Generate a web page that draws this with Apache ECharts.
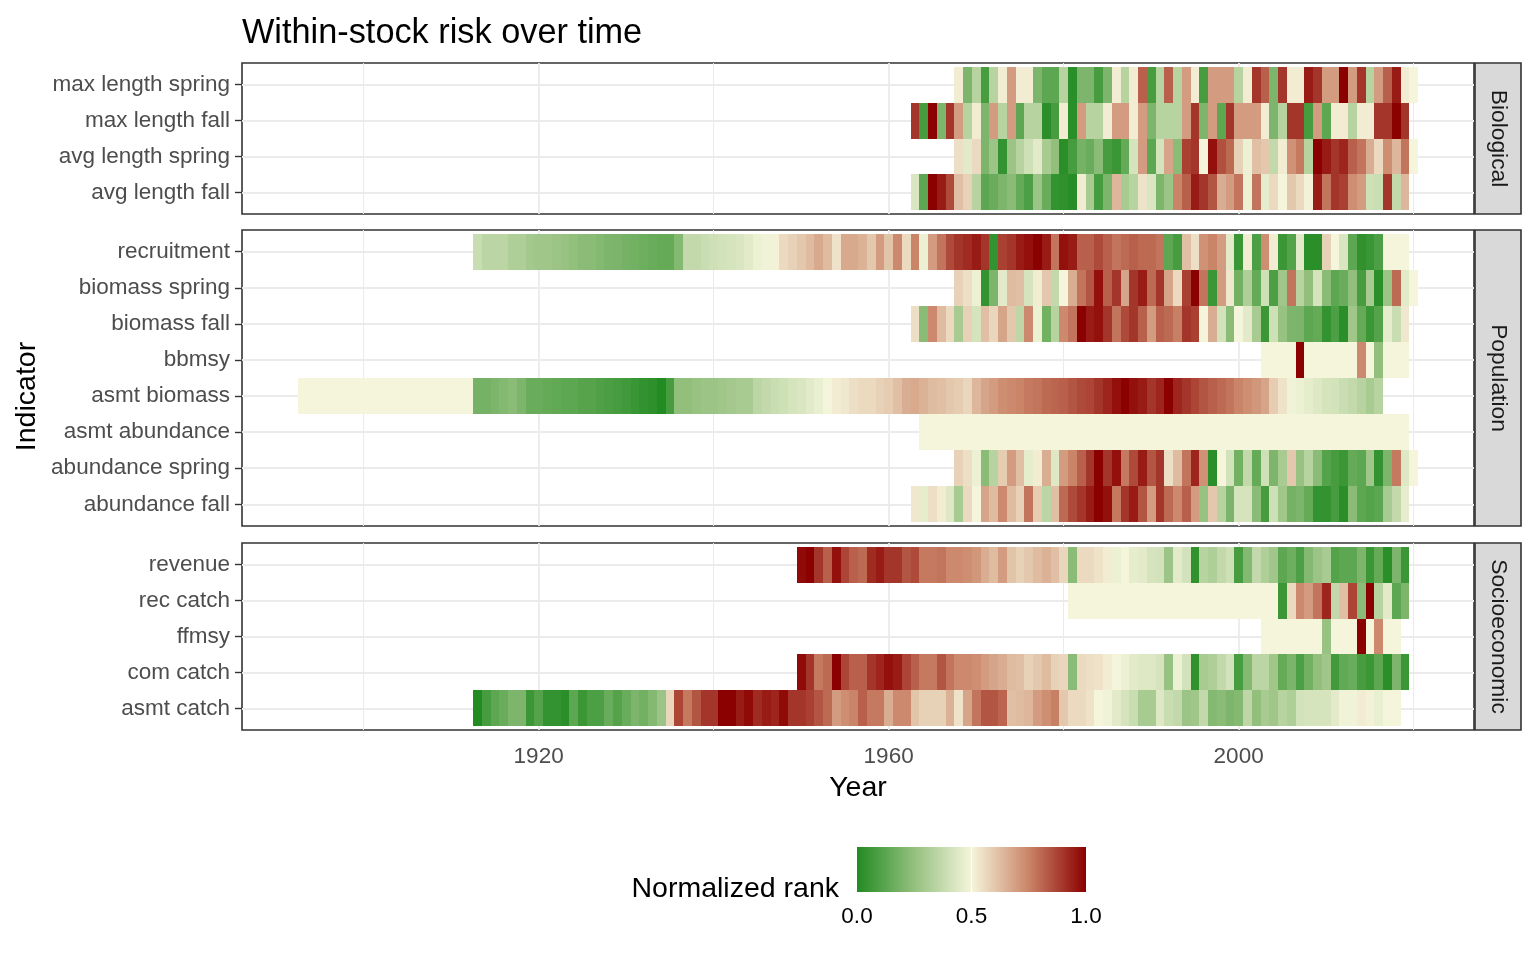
<!DOCTYPE html>
<html>
<head>
<meta charset="utf-8">
<title>Within-stock risk over time</title>
<script src="https://cdn.jsdelivr.net/npm/echarts@6/dist/echarts.min.js"></script>
<style>
    html, body { margin: 0; padding: 0; background: #fff; }
    #chart { width: 1536px; height: 960px; }
</style>
</head>
<body>
<div id="chart"></div>
<script>
// year axis
const yearMin = 1886.1;
const yearMax = 2026.9;
const majorYears = [1920, 1960, 2000];
const minorYears = [1900, 1940, 1980, 2020];
const legendTicks = [0, 0.5, 1];

// ---- Biological ----
// 1968-2020
const maxLengthSpring = [
    0.52, 0.2, 0.34, 0.08, 0.34, 0.52, 0.7, 0.52, 0.52, 0.2,
    0.13, 0.13, 0.34, 0.02, 0.2, 0.2, 0.08, 0.2, 0.52, 0.34,
    0.52, 0.82, 0.08, 0.34, 0.82, 0.34, 0.7, 0.52, 0.08, 0.7,
    0.7, 0.7, 0.34, 0.52, 0.9, 0.82, 0.2, 0.9, 0.52, 0.52,
    0.95, 0.9, 0.7, 0.7, 1.0, 0.7, 0.9, 0.34, 0.7, 0.82,
    0.95, 0.52, 0.5
];
// 1963-2019
const maxLengthFall = [
    0.9, 0.08, 1.0, 0.2, 0.9, 0.7, 0.34, 0.52, 0.2, 0.7,
    0.34, 0.7, 0.13, 0.34, 0.34, 0.02, 0.08, 0.52, 0.02, 0.7,
    0.34, 0.34, 0.52, 0.7, 0.7, 0.52, 0.7, 0.2, 0.34, 0.34,
    0.34, 0.7, 0.9, 0.2, 0.7, 0.13, 0.9, 0.7, 0.7, 0.7,
    0.52, 0.2, 0.34, 0.9, 0.9, 0.08, 0.7, 0.13, 0.52, 0.52,
    0.34, 0.52, 0.52, 0.9, 0.9, 1.0, 0.9
];
// 1968-2020
const avgLengthSpring = [
    0.55, 0.45, 0.56, 0.2, 0.27, 0.04, 0.27, 0.34, 0.4, 0.45,
    0.3, 0.245, 0.02, 0.08, 0.185, 0.155, 0.23, 0.08, 0.055, 0.145,
    0.42, 0.7, 0.13, 0.42, 0.68, 0.23, 0.88, 0.9, 0.5, 0.97,
    0.85, 0.8, 0.58, 0.48, 0.62, 0.6, 0.37, 0.52, 0.72, 0.77,
    0.34, 1.0, 0.95, 0.9, 0.93, 0.82, 0.78, 0.66, 0.56, 0.73,
    0.64, 0.78, 0.5
];
// 1963-2019
const avgLengthFall = [
    0.43, 0.13, 1.0, 0.95, 0.86, 0.62, 0.58, 0.34, 0.13, 0.155,
    0.2, 0.23, 0.145, 0.095, 0.27, 0.155, 0.04, 0.03, 0.01, 0.52,
    0.3, 0.08, 0.2, 0.64, 0.3, 0.34, 0.54, 0.43, 0.2, 0.27,
    0.75, 0.82, 0.95, 0.9, 0.84, 0.66, 0.7, 0.78, 0.48, 0.78,
    0.46, 0.56, 0.5, 0.6, 0.56, 0.51, 0.95, 0.78, 0.9, 0.88,
    0.73, 0.7, 0.4, 0.39, 0.9, 0.37, 0.64
];

// ---- Population ----
// 1913-2019
const recruitment = [
    0.385, 0.35, 0.35, 0.35, 0.32, 0.32, 0.29, 0.28, 0.28, 0.27,
    0.26, 0.245, 0.23, 0.23, 0.215, 0.2, 0.195, 0.185, 0.175, 0.165,
    0.155, 0.145, 0.145, 0.215, 0.37, 0.37, 0.385, 0.4, 0.41, 0.42,
    0.43, 0.45, 0.48, 0.49, 0.51, 0.56, 0.58, 0.6, 0.63, 0.67,
    0.63, 0.54, 0.67, 0.67, 0.65, 0.6, 0.7, 0.61, 0.74, 0.56,
    0.75, 0.48, 0.7, 0.78, 0.86, 0.9, 0.92, 0.95, 0.9, 0.04,
    0.88, 0.9, 0.95, 0.97, 1.0, 0.95, 0.78, 0.97, 0.95, 0.82,
    0.82, 0.86, 0.82, 0.78, 0.8, 0.82, 0.8, 0.8, 0.78, 0.13,
    0.08, 0.62, 0.55, 0.72, 0.75, 0.7, 0.45, 0.055, 0.52, 0.095,
    0.73, 0.52, 0.055, 0.11, 0.45, 0.02, 0.02, 0.58, 0.5, 0.43,
    0.13, 0.03, 0.05, 0.095, 0.5, 0.5, 0.5
];
// 1968-2020
const biomassSpring = [
    0.58, 0.55, 0.48, 0.04, 0.2, 0.45, 0.63, 0.62, 0.42, 0.52,
    0.6, 0.37, 0.5, 0.66, 0.78, 0.84, 0.97, 0.82, 0.9, 0.68,
    0.9, 0.95, 0.8, 0.9, 0.68, 0.56, 0.88, 1.0, 0.78, 0.055,
    0.7, 0.53, 0.175, 0.32, 0.145, 0.4, 0.095, 0.28, 0.78, 0.34,
    0.245, 0.42, 0.23, 0.13, 0.155, 0.245, 0.08, 0.3, 0.02, 0.27,
    0.8, 0.45, 0.5
];
// 1963-2019
const biomassFall = [
    0.55, 0.23, 0.74, 0.63, 0.56, 0.3, 0.58, 0.42, 0.62, 0.57,
    0.68, 0.6, 0.36, 0.74, 0.48, 0.175, 0.34, 0.74, 0.78, 1.0,
    0.95, 0.97, 0.9, 0.78, 0.86, 0.9, 0.82, 0.7, 0.82, 0.8,
    0.76, 0.9, 0.88, 0.5, 0.66, 0.41, 0.23, 0.5, 0.45, 0.3,
    0.055, 0.4, 0.26, 0.2, 0.195, 0.13, 0.145, 0.04, 0.095, 0.02,
    0.28, 0.145, 0.055, 0.11, 0.46, 0.385, 0.53
];
// 2003-2019
const bbmsy = [
    0.5, 0.5, 0.5, 0.5, 1.0, 0.5, 0.5, 0.5, 0.5, 0.5,
    0.5, 0.74, 0.5, 0.245, 0.5, 0.5, 0.5
];
// 1893-2016
const asmtBiomass = [
    0.5, 0.5, 0.5, 0.5, 0.5, 0.5, 0.5, 0.5, 0.5, 0.5,
    0.5, 0.5, 0.5, 0.5, 0.5, 0.5, 0.5, 0.5, 0.5, 0.5,
    0.185, 0.185, 0.2, 0.215, 0.23, 0.2, 0.155, 0.155, 0.145, 0.14,
    0.13, 0.13, 0.115, 0.115, 0.1, 0.09, 0.08, 0.065, 0.05, 0.035,
    0.025, 0.0, 0.08, 0.245, 0.245, 0.26, 0.27, 0.27, 0.28, 0.29,
    0.3, 0.3, 0.35, 0.37, 0.385, 0.4, 0.42, 0.43, 0.45, 0.47,
    0.5, 0.52, 0.53, 0.55, 0.56, 0.56, 0.58, 0.59, 0.62, 0.66,
    0.67, 0.65, 0.63, 0.62, 0.6, 0.59, 0.57, 0.64, 0.68, 0.7,
    0.73, 0.74, 0.75, 0.77, 0.78, 0.8, 0.81, 0.82, 0.84, 0.86,
    0.87, 0.9, 0.93, 0.97, 1.0, 0.97, 0.95, 0.9, 0.93, 1.0,
    0.93, 0.9, 0.87, 0.84, 0.82, 0.8, 0.78, 0.75, 0.73, 0.71,
    0.68, 0.59, 0.54, 0.49, 0.48, 0.46, 0.44, 0.42, 0.41, 0.385,
    0.37, 0.34, 0.3, 0.34
];
// 1964-2019
const asmtAbundance = [
    0.5, 0.5, 0.5, 0.5, 0.5, 0.5, 0.5, 0.5, 0.5, 0.5,
    0.5, 0.5, 0.5, 0.5, 0.5, 0.5, 0.5, 0.5, 0.5, 0.5,
    0.5, 0.5, 0.5, 0.5, 0.5, 0.5, 0.5, 0.5, 0.5, 0.5,
    0.5, 0.5, 0.5, 0.5, 0.5, 0.5, 0.5, 0.5, 0.5, 0.5,
    0.5, 0.5, 0.5, 0.5, 0.5, 0.5, 0.5, 0.5, 0.5, 0.5,
    0.5, 0.5, 0.5, 0.5, 0.5, 0.5
];
// 1968-2020
const abundanceSpring = [
    0.58, 0.55, 0.48, 0.23, 0.34, 0.59, 0.7, 0.62, 0.46, 0.52,
    0.66, 0.44, 0.7, 0.75, 0.82, 0.9, 1.0, 0.9, 0.97, 0.77,
    0.86, 0.95, 0.84, 0.9, 0.55, 0.63, 0.78, 0.93, 0.72, 0.02,
    0.5, 0.41, 0.175, 0.37, 0.145, 0.4, 0.2, 0.3, 0.6, 0.26,
    0.34, 0.23, 0.11, 0.08, 0.055, 0.145, 0.13, 0.28, 0.04, 0.2,
    0.77, 0.44, 0.5
];
// 1963-2019
const abundanceFall = [
    0.53, 0.46, 0.55, 0.52, 0.44, 0.3, 0.56, 0.5, 0.68, 0.63,
    0.74, 0.63, 0.58, 0.78, 0.59, 0.35, 0.62, 0.8, 0.86, 0.9,
    0.95, 1.0, 0.97, 0.77, 0.9, 0.95, 0.84, 0.7, 0.9, 0.8,
    0.74, 0.82, 0.7, 0.26, 0.6, 0.34, 0.195, 0.42, 0.42, 0.23,
    0.08, 0.4, 0.28, 0.185, 0.2, 0.145, 0.04, 0.04, 0.08, 0.02,
    0.23, 0.13, 0.11, 0.125, 0.3, 0.37, 0.46
];

// ---- Socioeconomic ----
// 1950-2019
const revenue = [
    0.98, 1.0, 0.9, 0.82, 0.97, 0.87, 0.82, 0.8, 0.92, 0.95,
    0.9, 0.9, 0.84, 0.86, 0.77, 0.77, 0.78, 0.74, 0.74, 0.73,
    0.71, 0.66, 0.63, 0.7, 0.61, 0.58, 0.6, 0.63, 0.65, 0.62,
    0.57, 0.23, 0.56, 0.56, 0.54, 0.52, 0.48, 0.5, 0.46, 0.45,
    0.42, 0.41, 0.27, 0.45, 0.41, 0.03, 0.34, 0.32, 0.37, 0.4,
    0.08, 0.215, 0.37, 0.32, 0.28, 0.13, 0.165, 0.095, 0.215, 0.27,
    0.3, 0.11, 0.13, 0.13, 0.2, 0.055, 0.145, 0.02, 0.2, 0.055
];
// 1981-2019
const recCatch = [
    0.5, 0.5, 0.5, 0.5, 0.5, 0.5, 0.5, 0.5, 0.5, 0.5,
    0.5, 0.5, 0.5, 0.5, 0.5, 0.5, 0.5, 0.5, 0.5, 0.5,
    0.5, 0.5, 0.5, 0.5,
    0.055, 0.56, 0.74, 0.7, 0.78, 0.93, 0.37, 0.62, 0.87, 0.23,
    1.0, 0.34, 0.45, 0.13, 0.2
];
// 2003-2018
const ffmsy = [
    0.5, 0.5, 0.5, 0.5, 0.5, 0.5, 0.5, 0.26, 0.5, 0.5,
    0.5, 1.0, 0.5, 0.74, 0.5, 0.5
];
// 1950-2019
const comCatch = [
    0.98, 0.9, 0.77, 0.8, 1.0, 0.87, 0.82, 0.82, 0.9, 0.93,
    0.97, 0.95, 0.87, 0.82, 0.77, 0.77, 0.84, 0.78, 0.74, 0.74,
    0.73, 0.7, 0.68, 0.66, 0.63, 0.62, 0.58, 0.6, 0.63, 0.58,
    0.57, 0.23, 0.56, 0.55, 0.54, 0.52, 0.5, 0.48, 0.45, 0.44,
    0.44, 0.42, 0.26, 0.48, 0.41, 0.03, 0.3, 0.32, 0.37, 0.41,
    0.08, 0.215, 0.35, 0.35, 0.28, 0.145, 0.195, 0.095, 0.175, 0.245,
    0.28, 0.07, 0.14, 0.155, 0.08, 0.055, 0.13, 0.02, 0.2, 0.055
];
// 1913-2018
const asmtCatch = [
    0.0, 0.08, 0.13, 0.155, 0.2, 0.2, 0.055, 0.11, 0.04, 0.04,
    0.02, 0.13, 0.055, 0.095, 0.095, 0.155, 0.11, 0.155, 0.2, 0.175,
    0.215, 0.27, 0.57, 0.87, 0.77, 0.84, 0.9, 0.9, 1.0, 1.0,
    0.95, 0.98, 0.92, 0.95, 0.93, 0.98, 0.9, 0.9, 0.88, 0.84,
    0.8, 0.7, 0.73, 0.75, 0.82, 0.77, 0.77, 0.66, 0.74, 0.74,
    0.61, 0.58, 0.58, 0.58, 0.65, 0.54, 0.68, 0.78, 0.84, 0.84,
    0.81, 0.62, 0.63, 0.64, 0.7, 0.73, 0.76, 0.6, 0.56, 0.56,
    0.54, 0.5, 0.49, 0.45, 0.42, 0.385, 0.3, 0.3, 0.44, 0.385,
    0.37, 0.27, 0.28, 0.37, 0.215, 0.23, 0.2, 0.215, 0.36, 0.245,
    0.3, 0.28, 0.34, 0.32, 0.41, 0.42, 0.42, 0.42, 0.45, 0.49,
    0.49, 0.52, 0.51, 0.47, 0.5, 0.5
];

// facets, rows listed top to bottom: [label, first year, values]
const panelNames = ['Biological', 'Population', 'Socioeconomic'];
const panelRows = [
    [
        ['max length spring', 1968, maxLengthSpring],
        ['max length fall', 1963, maxLengthFall],
        ['avg length spring', 1968, avgLengthSpring],
        ['avg length fall', 1963, avgLengthFall]
    ],
    [
        ['recruitment', 1913, recruitment],
        ['biomass spring', 1968, biomassSpring],
        ['biomass fall', 1963, biomassFall],
        ['bbmsy', 2003, bbmsy],
        ['asmt biomass', 1893, asmtBiomass],
        ['asmt abundance', 1964, asmtAbundance],
        ['abundance spring', 1968, abundanceSpring],
        ['abundance fall', 1963, abundanceFall]
    ],
    [
        ['revenue', 1950, revenue],
        ['rec catch', 1981, recCatch],
        ['ffmsy', 2003, ffmsy],
        ['com catch', 1950, comCatch],
        ['asmt catch', 1913, asmtCatch]
    ]
];

// low = forestgreen, mid = beige, high = darkred
const rankColors = ['#228B22', '#94C07E', '#F5F5DC', '#CA8568', '#8B0000'];

const FONT = "'Liberation Sans', Arial, sans-serif";
const panelTops = [63, 230, 543];
const panelHeights = [151, 296, 187];
const gridLeft = 242;
const gridRight = 62;
const stripX = 1475;
const stripW = 46;

let chart = echarts.init(document.getElementById('chart'));

function renderTile(params, api) {
    let yr = api.value(0);
    let row = api.value(1);
    let a = api.coord([yr - 0.5, row + 0.5]);
    let b = api.coord([yr + 0.5, row - 0.5]);
    let x0 = Math.round(a[0]), x1 = Math.round(b[0]);
    let y0 = Math.round(a[1]), y1 = Math.round(b[1]);
    return {
        type: 'rect',
        shape: {x: x0, y: y0, width: x1 - x0, height: y1 - y0},
        style: {fill: api.visual('color')}
    };
}

function centredText(x, y, text, size, color, rotation) {
    return {
        type: 'text',
        x: x,
        y: y,
        rotation: rotation || 0,
        style: {
            text: text, fill: color, font: size + 'px ' + FONT,
            align: 'center', verticalAlign: 'middle',
            textAlign: 'center', textVerticalAlign: 'middle'
        }
    };
}

let grids = [], xAxes = [], yAxes = [], series = [], graphics = [];

panelRows.forEach(function (rows, i) {
    let n = rows.length;
    // ggplot puts the first level at the bottom, so flip the order
    let names = rows.map(function (r) { return r[0]; }).reverse();
    let rowIdx = names.map(function (d, k) { return k; });
    let isBottom = i === panelRows.length - 1;

    grids.push({
        left: gridLeft,
        right: gridRight,
        top: panelTops[i],
        height: panelHeights[i],
        show: true,
        backgroundColor: '#fff',
        borderColor: '#333333',
        borderWidth: 1.6
    });

    // major year lines + labels
    xAxes.push({
        type: 'value',
        gridIndex: i,
        min: yearMin,
        max: yearMax,
        axisLine: {show: false},
        axisTick: {
            show: isBottom,
            customValues: majorYears,
            length: 7,
            lineStyle: {color: '#333333', width: 1.4}
        },
        axisLabel: {
            show: isBottom,
            customValues: majorYears,
            formatter: function (v) { return String(v); },
            color: '#4D4D4D',
            fontSize: 22.5,
            fontFamily: FONT,
            margin: 15
        },
        splitLine: {show: true, lineStyle: {color: '#EBEBEB', width: 1.8}}
    });
    // minor year lines
    xAxes.push({
        type: 'value',
        gridIndex: i,
        position: 'top',
        min: yearMin,
        max: yearMax,
        axisLine: {show: false},
        axisTick: {show: false, customValues: minorYears},
        axisLabel: {show: false},
        splitLine: {show: true, lineStyle: {color: '#EBEBEB', width: 1.0}}
    });

    yAxes.push({
        type: 'value',
        gridIndex: i,
        min: -0.6,
        max: n - 0.4,
        axisLine: {show: false},
        axisTick: {
            show: true,
            customValues: rowIdx,
            length: 7,
            lineStyle: {color: '#333333', width: 1.4}
        },
        axisLabel: {
            customValues: rowIdx,
            formatter: function (v) { return names[Math.round(v)]; },
            color: '#4D4D4D',
            fontSize: 22.5,
            fontFamily: FONT,
            margin: 12,
            padding: [6, 0, 0, 0]
        },
        splitLine: {show: true, lineStyle: {color: '#EBEBEB', width: 1.8}}
    });

    let data = [];
    rows.forEach(function (r, k) {
        let y = n - 1 - k;
        r[2].forEach(function (v, j) {
            data.push([r[1] + j, y, v]);
        });
    });

    series.push({
        type: 'custom',
        name: panelNames[i],
        xAxisIndex: i * 2,
        yAxisIndex: i,
        renderItem: renderTile,
        encode: {x: 0, y: 1},
        data: data,
        silent: true,
        z: 3
    });

    // facet strip on the right
    graphics.push({
        type: 'rect',
        shape: {x: stripX, y: panelTops[i], width: stripW, height: panelHeights[i]},
        style: {fill: '#D9D9D9', stroke: '#333333', lineWidth: 1.6}
    });
    graphics.push(centredText(stripX + stripW / 2, panelTops[i] + panelHeights[i] / 2,
        panelNames[i], 22.8, '#1A1A1A', -Math.PI / 2));
});

// axis titles
graphics.push(centredText((gridLeft + 1536 - gridRight) / 2, 788, 'Year', 28.5, '#000'));
graphics.push(centredText(27, (panelTops[0] + panelTops[2] + panelHeights[2]) / 2,
    'Indicator', 28.5, '#000', Math.PI / 2));

// colour bar legend
const barX = 857, barY = 847, barW = 229, barH = 45;
graphics.push({
    type: 'text',
    x: 839,
    y: 889,
    style: {
        text: 'Normalized rank', fill: '#000', font: '28.5px ' + FONT,
        align: 'right', verticalAlign: 'middle', textAlign: 'right', textVerticalAlign: 'middle'
    }
});
graphics.push({
    type: 'rect',
    shape: {x: barX, y: barY, width: barW, height: barH},
    style: {
        fill: new echarts.graphic.LinearGradient(0, 0, 1, 0, rankColors.map(function (c, k) {
            return {offset: k / (rankColors.length - 1), color: c};
        }))
    }
});
legendTicks.forEach(function (t) {
    let tx = barX + t * barW;
    if (t > 0 && t < 1) {
        graphics.push({
            type: 'line',
            shape: {x1: tx, y1: barY, x2: tx, y2: barY + barH},
            style: {stroke: '#fff', lineWidth: 1}
        });
    }
    graphics.push(centredText(tx, 917, t.toFixed(1), 22.5, '#000'));
});

let option = {
    animation: false,
    backgroundColor: '#fff',
    title: {
        text: 'Within-stock risk over time',
        left: 242,
        top: 17,
        padding: 0,
        textStyle: {fontSize: 34.3, fontWeight: 'normal', color: '#000', fontFamily: FONT}
    },
    grid: grids,
    xAxis: xAxes,
    yAxis: yAxes,
    visualMap: {
        type: 'continuous',
        show: false,
        min: 0,
        max: 1,
        dimension: 2,
        seriesIndex: [0, 1, 2],
        inRange: {color: rankColors}
    },
    series: series,
    graphic: {elements: graphics}
};

chart.setOption(option);
</script>
</body>
</html>
